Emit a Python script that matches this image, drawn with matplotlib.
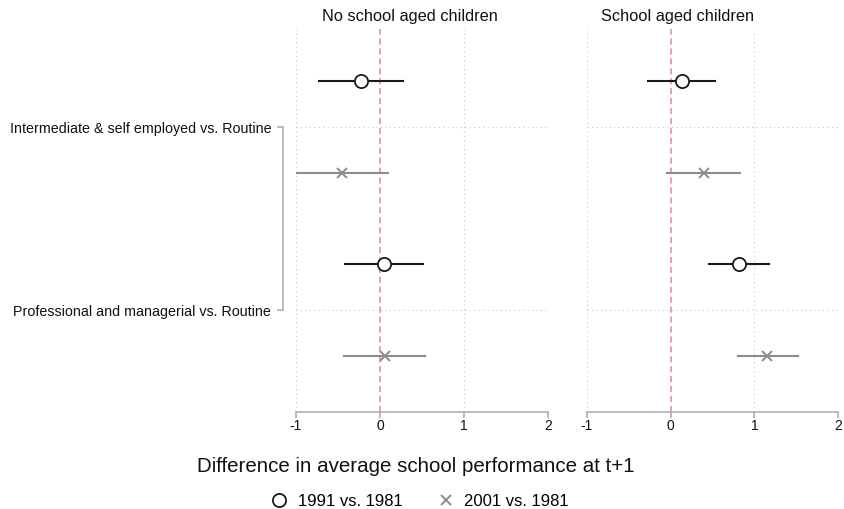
import matplotlib.pyplot as plt
from matplotlib.lines import Line2D

plt.rcParams['font.family'] = ['Liberation Sans', 'DejaVu Sans']

# rows, top to bottom
categories = ['Intermediate & self employed vs. Routine',
              'Professional and managerial vs. Routine']
panels = ['No school aged children', 'School aged children']
series = ['1991 vs. 1981', '2001 vs. 1981']

# estimates and confidence limits, per panel, per category
est_1991 = [[-0.23, 0.05], [0.13, 0.82]]
lo_1991 = [[-0.73, -0.42], [-0.27, 0.46]]
hi_1991 = [[0.27, 0.51], [0.53, 1.17]]

est_2001 = [[-0.45, 0.06], [0.40, 1.15]]
lo_2001 = [[-1.00, -0.43], [-0.04, 0.80]]
hi_2001 = [[0.10, 0.54], [0.83, 1.52]]

xticks = [-1, 0, 1, 2]

W, H = 845, 510
fig = plt.figure(figsize=(W / 100, H / 100), dpi=100)

boxes = [(296, 252), (587, 251)]
title_x = [410, 678]
top, bottom = 30, 413
ypos = [1, 2]
off = 0.25

axes = []
for p in range(2):
    left, width = boxes[p]
    ax = fig.add_axes([left / W, 1 - bottom / H, width / W, (bottom - top) / H])
    axes.append(ax)

    for x in [-1, 1, 2]:
        ax.axvline(x, color='#c8c8c8', lw=0.8, ls=(0, (1, 3)), zorder=0)
    for y in ypos:
        ax.axhline(y, color='#c8c8c8', lw=0.8, ls=(0, (1, 3)), zorder=0)
    ax.axvline(0, color='#e47fb4', lw=1.1, ls=(0, (4, 2.5)), zorder=1)

    for i, y in enumerate(ypos):
        ax.plot([lo_1991[p][i], hi_1991[p][i]], [y - off, y - off],
                color='#1a1a1a', lw=1.5, zorder=2)
        ax.plot(est_1991[p][i], y - off, 'o', ms=9.5, mfc='white',
                mec='#1a1a1a', mew=1.3, zorder=3)
        ax.plot([lo_2001[p][i], hi_2001[p][i]], [y + off, y + off],
                color='#8c8c8c', lw=1.5, zorder=2)
        ax.plot(est_2001[p][i], y + off, 'x', ms=7.5, mec='#8c8c8c',
                mew=1.4, zorder=3)

    ax.set_xlim(-1, 2)
    ax.set_ylim(2 + 102 / 183, 1 - 98 / 183)

    for s in ['top', 'right']:
        ax.spines[s].set_visible(False)
    ax.spines['bottom'].set_color('#a8a8a8')
    ax.spines['bottom'].set_linewidth(1.1)
    ax.spines['bottom'].set_bounds(-1, 2)
    ax.set_xticks(xticks)
    ax.set_xticklabels([str(t) for t in xticks])
    ax.tick_params(axis='x', length=4, width=1.1, color='#a8a8a8',
                   pad=0.5, labelsize=10, labelcolor='#111111')

    if p == 0:
        ax.spines['left'].set_position(('outward', 9.4))
        ax.spines['left'].set_bounds(1, 2)
        ax.spines['left'].set_color('#a8a8a8')
        ax.spines['left'].set_linewidth(1.1)
        ax.set_yticks(ypos)
        ax.set_yticklabels(categories)
        ax.tick_params(axis='y', length=4.5, width=1.1, color='#a8a8a8',
                       pad=4, labelsize=10.3, labelcolor='#111111')
    else:
        ax.spines['left'].set_visible(False)
        ax.set_yticks([])

    fig.text(title_x[p] / W, 1 - 16.5 / H, panels[p], ha='center', va='center',
             fontsize=11.8, color='#111111')

fig.text(416 / W, 1 - 467 / H, 'Difference in average school performance at t+1',
         ha='center', va='center', fontsize=14.8, color='#111111')

handles = [
    Line2D([], [], ls='none', marker='o', ms=9.5, mfc='white', mec='#1a1a1a', mew=1.3),
    Line2D([], [], ls='none', marker='x', ms=7.5, mec='#8c8c8c', mew=1.4),
]
fig.legend(handles, series, loc='center', bbox_to_anchor=(419 / W, 1 - 502 / H),
           ncol=2, frameon=False, fontsize=12, handletextpad=0.5,
           columnspacing=2.0, handlelength=1.2, borderpad=0)

fig.savefig('out.png', dpi=100, facecolor='white')
